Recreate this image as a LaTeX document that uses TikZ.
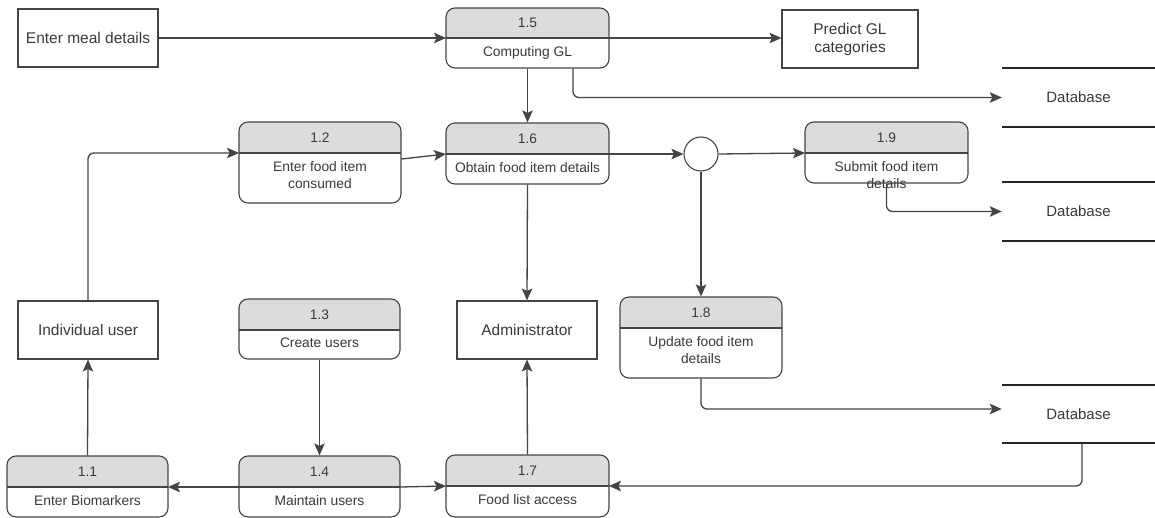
\documentclass[tikz,border=0pt]{standalone}
\usepackage{fontspec}
\setmainfont{Liberation Sans}
\usetikzlibrary{arrows.meta,fit,calc}

\definecolor{ink}{HTML}{3A3A3A}
\definecolor{edge}{HTML}{444444}
\definecolor{hdr}{HTML}{DCDCDC}

\tikzset{
  flow/.style={draw=edge, line width=1.3pt, rounded corners=6pt,
    -{Stealth[length=12pt,width=10.5pt,inset=2.5pt]}},
  entity/.style={draw=edge, line width=1.1pt, text=ink, align=center,
    font=\fontsize{15.5}{18}\selectfont},
  frame/.style={draw=edge, line width=1.1pt, rounded corners=9pt, inner sep=0pt},
  numlabel/.style={text=ink, inner sep=0pt, font=\fontsize{13.8}{16}\selectfont},
  desclabel/.style={text=ink, inner sep=0pt, anchor=north, align=center,
    font=\fontsize{13.8}{17}\selectfont},
  storeline/.style={draw=black!85, line width=2pt},
  store/.style={text=ink, inner sep=0pt, minimum width=153pt,
    font=\fontsize{15}{18}\selectfont},
  junction/.style={draw=edge, line width=1.1pt, circle, minimum size=34pt, inner sep=0pt},
}

% process box: name, x1, y1, x2, y2, divider y, number, description
\newcommand{\dfdproc}[8]{%
  \begin{scope}
    \clip[rounded corners=9pt] (#2,#3) rectangle (#4,#5);
    \fill[hdr] (#2,#3) rectangle (#4,#6);
  \end{scope}
  \node[frame, fit={(#2,#3) (#4,#5)}] (#1) {};
  \coordinate (#1-l) at (#2,#6);
  \coordinate (#1-r) at (#4,#6);
  \draw[edge, line width=1.1pt] (#1-l) -- (#1-r);
  \node[numlabel] at ({(#2+#4)/2},{(#3+#6)/2}) {#7};
  \node[desclabel] at ({(#2+#4)/2},{#6+8}) {#8};
}

\begin{document}
\begin{tikzpicture}[x=1pt,y=-1pt]
  \useasboundingbox (0,0) rectangle (1155,518);
  \fill[white] (0,0) rectangle (1155,518);

  % processes
  \dfdproc{p15}{446}{8}{609}{68}{38}{1.5}{Computing GL}
  \dfdproc{p12}{239}{122}{401}{203}{153}{1.2}{Enter food item\\consumed}
  \dfdproc{p16}{446}{123}{609}{184}{154}{1.6}{Obtain food item details}
  \dfdproc{p19}{805}{122}{968}{183}{153}{1.9}{Submit food item\\details}
  \dfdproc{p13}{239}{299}{400}{359}{330}{1.3}{Create users}
  \dfdproc{p18}{620}{297}{782}{378}{328}{1.8}{Update food item\\details}
  \dfdproc{p11}{7}{456}{168}{517}{487}{1.1}{Enter Biomarkers}
  \dfdproc{p14}{239}{456}{400}{517}{487}{1.4}{Maintain users}
  \dfdproc{p17}{446}{455}{609}{517}{486}{1.7}{Food list access}

  % external entities
  \node[entity, minimum width=140pt, minimum height=58pt] (meal) at (88,38) {Enter meal details};
  \node[entity, minimum width=136pt, minimum height=58pt] (pred) at (850,39) {Predict GL\\categories};
  \node[entity, minimum width=140pt, minimum height=58pt] (user) at (88,330) {Individual user};
  \node[entity, minimum width=140pt, minimum height=58pt] (admin) at (527,330) {Administrator};

  % junction
  \node[junction] (junc) at (701,154) {};

  % data stores
  \node[store, minimum height=59pt] (db1) at (1078.5,97.5) {Database};
  \node[store, minimum height=59pt] (db2) at (1078.5,211.5) {Database};
  \node[store, minimum height=58pt] (db3) at (1078.5,414) {Database};
  \foreach \d in {db1,db2,db3}{
    \draw[storeline] (\d.north west) -- (\d.north east);
    \draw[storeline] (\d.south west) -- (\d.south east);
  }

  % data flows
  \draw[flow] (meal.east) -- (p15-l);
  \draw[flow] (p15-r) -- (p15-r -| pred.west);
  \draw[flow] ([xshift=45.5pt]p15.south) |- (db1.west);
  \draw[flow] (p15.south) -- (p16.north);
  \draw[flow] ([yshift=3.5pt]p12.east) -- (p16-l);
  \draw[flow] (user.north) |- (p12-l);
  \draw[flow] (p11.north) -- (user.south);
  \draw[flow] (p13.south) -- (p14.north);
  \draw[flow] (p14-l) -- (p11-r);
  \draw[flow] (p14-r) -- (p17-l);
  \draw[flow] (p17.north) -- (admin.south);
  \draw[flow] (p16.south) -- (admin.north);
  \draw[flow] (p16-r) -- (junc.west);
  \draw[flow] (junc.east) -- (p19-l);
  \draw[flow] (junc.south) -- (p18.north);
  \draw[flow] (p19.south) |- (db2.west);
  \draw[flow] (p18.south) |- ([yshift=5pt]db3.west);
  \draw[flow] ([xshift=3.5pt]db3.south) |- (p17-r);
\end{tikzpicture}
\end{document}
